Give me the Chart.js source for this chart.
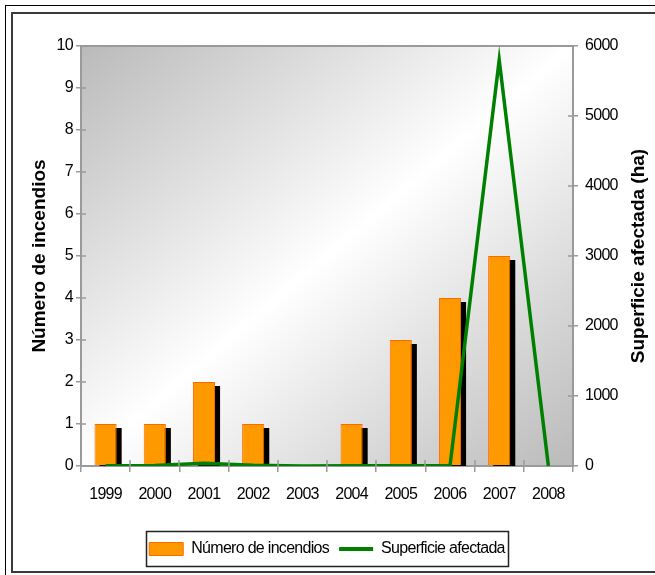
<!DOCTYPE html>
<html><head><meta charset="utf-8">
<script src="https://cdn.jsdelivr.net/npm/chart.js@4"></script>
<style>
html,body{margin:0;padding:0;width:655px;height:575px;overflow:hidden;background:#fff;}
#o{position:absolute;left:5px;top:5px;width:720px;height:720px;border:1px solid #000;box-sizing:border-box;}
#i{position:absolute;left:11px;top:12px;width:720px;height:561px;border:2px solid #3a3a3a;box-sizing:border-box;}
#w{position:absolute;left:0;top:0;width:655px;height:575px;}
</style></head><body>
<div id="o"></div><div id="i"></div>
<div id="w"><canvas id="c" width="655" height="575"></canvas></div>
<script>
const years = ['1999','2000','2001','2002','2003','2004','2005','2006','2007','2008'];
const numIncendios = [1, 1, 2, 1, 0, 1, 3, 4, 5, 0];
const superficie = [5, 8, 40, 10, 0, 3, 5, 2, 5800, 0];
const leftAxis = {min: 0, max: 10, step: 1};
const rightAxis = {min: 0, max: 6000, step: 1000};
const seriesNames = ['Número de incendios', 'Superficie afectada'];
const axisTitles = ['Número de incendios', 'Superficie afectada (ha)'];

const FONT = "'Liberation Sans', Arial, sans-serif";
Chart.defaults.font.family = FONT;
Chart.defaults.color = '#000';
const AXIS = '#9a9a9a';
const TITLE_FONT = "bold 19px " + FONT;

const spacingPlugin = {
  id: 'spacing',
  beforeLayout(chart) {
    chart.ctx.letterSpacing = '-0.7px';
  },
  beforeDraw(chart) {
    const ctx = chart.ctx;
    ctx.letterSpacing = '-0.7px';
    Object.values(chart.scales).forEach(s => {
      if (!s._tp) {
        s._tp = true;
        const orig = s.drawTitle;
        s.drawTitle = function () {
          const c = this.ctx;
          if (this.id === 'y1') {
            c.save();
            c.letterSpacing = '0px';
            c.font = TITLE_FONT;
            c.fillStyle = '#000';
            c.textAlign = 'center';
            c.textBaseline = 'middle';
            c.translate(this.right - 1 - 11.4, (this.top + this.bottom) / 2);
            c.rotate(-Math.PI / 2);
            c.fillText(this.options.title.text, 0, 0);
            c.restore();
            return;
          }
          const p = c.letterSpacing;
          c.letterSpacing = '0px'; orig.call(this); c.letterSpacing = p;
        };
      }
    });
    const a = chart.chartArea;
    ctx.save();
    ctx.translate(a.left, a.top);
    ctx.scale(a.width, a.height);
    const g = ctx.createLinearGradient(0, 0, 1, 1);
    g.addColorStop(0, '#bababa');
    g.addColorStop(0.5, '#ffffff');
    g.addColorStop(1, '#bababa');
    ctx.fillStyle = g;
    ctx.fillRect(0, 0, 1, 1);
    ctx.restore();
    ctx.save();
    ctx.strokeStyle = AXIS; ctx.lineWidth = 2;
    ctx.strokeRect(a.left, a.top, a.width, a.height);
    ctx.restore();
  },
  beforeDatasetsDraw(chart) {
    const ctx = chart.ctx, a = chart.chartArea;
    const meta = chart.getDatasetMeta(0);
    ctx.save();
    ctx.beginPath(); ctx.rect(a.left, a.top, a.width, a.height); ctx.clip();
    ctx.fillStyle = '#000';
    meta.data.forEach(bar => {
      const p = bar.getProps(['x', 'y', 'base', 'width'], true);
      if (p.base - p.y < 1) return;
      ctx.fillRect(p.x - p.width / 2 + 5, p.y + 4, p.width, p.base - p.y);
    });
    ctx.restore();
  },
  afterDraw(chart) {
    const ctx = chart.ctx, a = chart.chartArea;
    ctx.save();
    ctx.strokeStyle = AXIS; ctx.lineWidth = 1.5;
    ctx.beginPath();
    const xs = chart.scales.x;
    for (let i = 0; i <= years.length; i++) {
      const px = Math.round(xs.getPixelForValue(i - 0.5));
      ctx.moveTo(px, a.bottom); ctx.lineTo(px, a.bottom - 6);
    }
    chart.scales.y.ticks.forEach(t => {
      const py = chart.scales.y.getPixelForValue(t.value);
      ctx.moveTo(a.left, py); ctx.lineTo(a.left + 5, py);
    });
    chart.scales.y1.ticks.forEach(t => {
      const py = chart.scales.y1.getPixelForValue(t.value);
      ctx.moveTo(a.right - 5, py); ctx.lineTo(a.right, py);
    });
    ctx.stroke();
    const lg = chart.legend;
    const hb = lg.legendHitBoxes;
    if (hb && hb.length) {
      let l = Math.min(...hb.map(h => h.left));
      let r = Math.max(...hb.map(h => h.left + h.width));
      ctx.strokeStyle = '#222'; ctx.lineWidth = 1.5;
      ctx.strokeRect(Math.round(l - 3) + 0.5, Math.round(lg.top) + 0.5, Math.round(r - l + 6), Math.round(lg.height) - 1);
    }
    ctx.restore();
  }
};

const ctx = document.getElementById('c').getContext('2d');
new Chart(ctx, {
  data: {
    labels: years,
    datasets: [
      {
        type: 'bar', label: seriesNames[0], data: numIncendios, yAxisID: 'y',
        backgroundColor: '#ff9900', borderColor: '#ff6a00', borderWidth: 1,
        barPercentage: 0.9, categoryPercentage: 0.5, order: 1
      },
      {
        type: 'line', label: seriesNames[1], data: superficie, yAxisID: 'y1',
        borderColor: '#008000', backgroundColor: '#008000', borderWidth: 3.5,
        pointRadius: 0, tension: 0, order: 0
      }
    ]
  },
  options: {
    responsive: false,
    animation: false,
    layout: {padding: {left: 20, right: 4, top: 46, bottom: 8}},
    plugins: {
      tooltip: {enabled: false},
      legend: {
        position: 'bottom',
        fullSize: false,
        labels: {
          font: {size: 16}, color: '#000', padding: 10,
          usePointStyle: true, pointStyleWidth: 34, boxHeight: 13,
          generateLabels(chart) {
            const items = Chart.defaults.plugins.legend.labels.generateLabels(chart);
            items.forEach(it => {
              if (it.datasetIndex === 0) {
                it.pointStyle = 'rect'; it.lineWidth = 1;
                it.fillStyle = '#ff9900'; it.strokeStyle = '#ff6a00';
              } else {
                it.pointStyle = 'line'; it.lineWidth = 4;
                it.strokeStyle = '#008000'; it.fillStyle = '#008000';
              }
            });
            return items.sort((p, q) => p.datasetIndex - q.datasetIndex);
          }
        }
      }
    },
    scales: {
      x: {
        grid: {display: true, drawOnChartArea: false, tickLength: 6, color: AXIS, lineWidth: 1.5, offset: true},
        border: {display: true, color: AXIS, width: 2},
        ticks: {font: {size: 16}, color: '#000', padding: 13, maxRotation: 0, autoSkip: false},
        afterFit(s) { s.height = 65; }
      },
      y: {
        position: 'left', min: leftAxis.min, max: leftAxis.max,
        grid: {drawOnChartArea: false, tickLength: 5, color: AXIS, lineWidth: 1.5},
        border: {color: AXIS, width: 2},
        ticks: {stepSize: leftAxis.step, font: {size: 16}, color: '#000', padding: 3, callback: v => String(v)},
        title: {display: true, text: axisTitles[0], font: {size: 19, weight: 'bold'}, color: '#000', padding: {top: 8, bottom: 0}},
        afterFit(s) { s.width = 61; }
      },
      y1: {
        position: 'right', min: rightAxis.min, max: rightAxis.max,
        grid: {drawOnChartArea: false, tickLength: 5, color: AXIS, lineWidth: 1.5},
        border: {color: AXIS, width: 2},
        ticks: {stepSize: rightAxis.step, font: {size: 16}, color: '#000', padding: 7, callback: v => String(v)},
        title: {display: true, text: axisTitles[1], font: {size: 19, weight: 'bold'}, color: '#000', padding: {top: 1, bottom: 0}},
        afterFit(s) { s.width = 78; }
      }
    }
  },
  plugins: [spacingPlugin]
});
</script>
</body></html>
